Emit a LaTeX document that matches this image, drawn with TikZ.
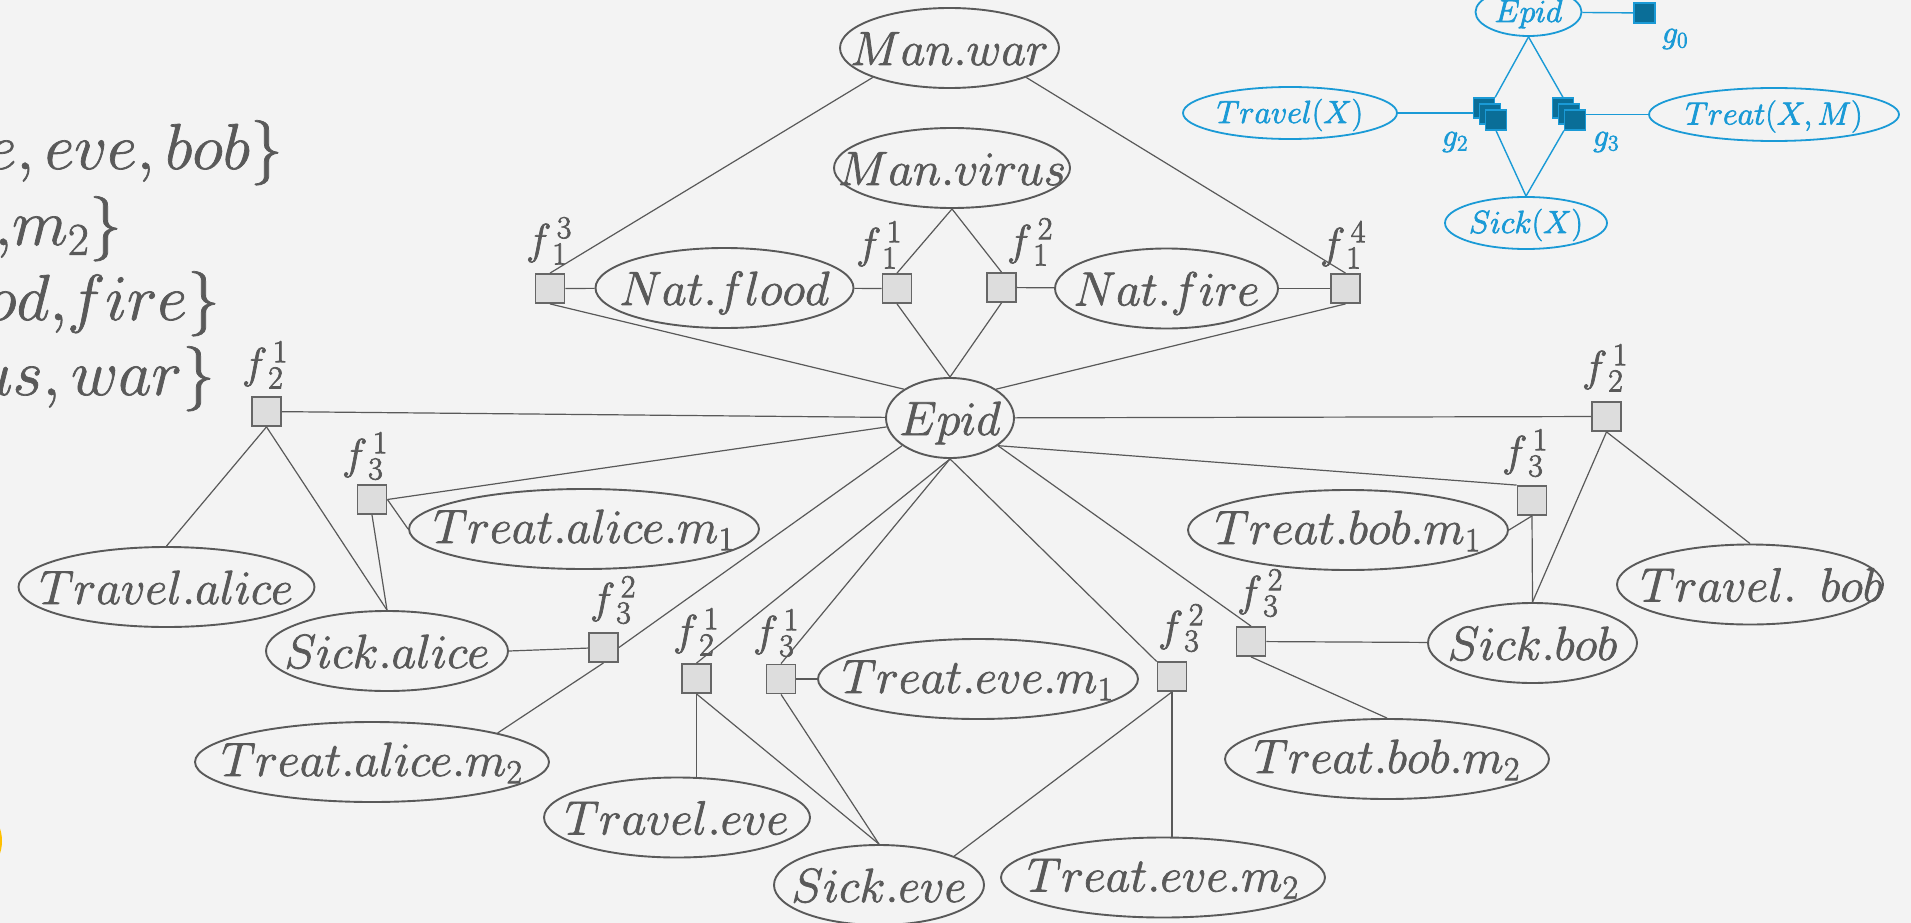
\RequirePackage{fix-cm}
\documentclass[tikz,border=0pt]{standalone}
\usetikzlibrary{shapes.geometric}

\definecolor{bg}{HTML}{F3F3F3}
\definecolor{ink}{HTML}{595959}
\definecolor{sqfill}{HTML}{DDDDDD}
\definecolor{sqline}{HTML}{666666}
\definecolor{blu}{HTML}{1A9AD6}
\definecolor{bluefill}{HTML}{0A6E98}
\definecolor{gold}{HTML}{FFC000}

\DeclareMathSizes{43}{43}{32}{24}

% slightly heavier glyphs: fill and stroke the outlines
\newcommand\heavy[1]{\special{pdf:literal direct 2 Tr 0.7 w}#1\special{pdf:literal direct 0 Tr}}
% centred label that does not widen its node
\newcommand\ctext[1]{\makebox[0pt]{\heavy{$#1$}}}
% factor name f with sub- and superscript set a little apart
\newcommand\fname[2]{\heavy{$f^{\,#2}_{\,#1}$}}

\tikzset{
  var/.style={ellipse, draw=ink, line width=1.9pt, inner sep=0pt, minimum height=80pt,
    text=ink, font=\fontsize{48}{56}\selectfont, text height=34pt, text depth=0pt},
  subvar/.style={var, text height=28pt},
  fac/.style={rectangle, draw=sqline, fill=sqfill, line width=1.8pt,
    minimum width=29pt, minimum height=29pt, inner sep=0pt},
  flab/.style={text=ink, inner sep=0pt, font=\fontsize{43}{50}\selectfont},
  link/.style={draw=ink, line width=1.2pt},
  bvar/.style={ellipse, draw=blu, line width=1.8pt, inner sep=0pt, text=blu,
    font=\fontsize{32}{38}\selectfont, text height=20pt, text depth=0pt},
  bfac/.style={rectangle, draw=blu, fill=bluefill, line width=1.2pt,
    minimum width=21pt, minimum height=20pt, inner sep=0pt},
  blab/.style={text=blu, inner sep=0pt, font=\fontsize{32}{38}\selectfont},
  blink/.style={draw=blu, line width=1.4pt},
  settext/.style={text=ink, inner sep=0pt, font=\fontsize{65}{76}\selectfont, anchor=base east},
}

\begin{document}
\begin{tikzpicture}[x=1pt, y=-1pt]
\useasboundingbox (0,0) rectangle (1911,923);
\fill[bg] (0,0) rectangle (1911,923);
\clip (0,0) rectangle (1911,923);

% domain sets at the left edge
\node[settext] (dx) at (283,169) {\heavy{$e,eve,bob\}$}};
\node[settext] (dm) at (122,245) {\heavy{$,\!m_2\}$}};
\node[settext] (dn) at (220,320) {\heavy{$od,\!fire\}$}};
\node[settext] (dh) at (215,395) {\heavy{$us,war\}$}};
\fill[gold] (-38,841) circle (40pt);

% random variables
\node[var, minimum width=219pt] (manwar) at (949.5,48) {\ctext{Man.war}};
\node[var, minimum width=236pt] (manvirus) at (952,168) {\ctext{Man.virus}};
\node[var, minimum width=258pt] (natflood) at (724.5,288) {\ctext{Nat.flood}};
\node[var, minimum width=223pt] (natfire) at (1166.5,288.5) {\ctext{Nat.fire}};
\node[var, minimum width=128pt] (epid) at (950,418) {\ctext{Epid}};
\node[var, minimum width=296pt] (travelalice) at (166.5,587) {\ctext{Travel.alice}};
\node[subvar, minimum width=350pt] (treatalicem1) at (584,529) {\ctext{Treat.alice.m_1}};
\node[var, minimum width=242pt] (sickalice) at (387,651) {\ctext{Sick.alice}};
\node[subvar, minimum width=354pt] (treatalicem2) at (372,762) {\ctext{Treat.alice.m_2}};
\node[var, minimum width=266pt] (traveleve) at (677,817.5) {\ctext{Travel.eve}};
\node[var, minimum width=210pt] (sickeve) at (879,885) {\ctext{Sick.eve}};
\node[subvar, minimum width=320pt] (treatevem1) at (978,679) {\ctext{Treat.eve.m_1}};
\node[subvar, minimum width=324pt] (treatevem2) at (1163,877.5) {\ctext{Treat.eve.m_2}};
\node[subvar, minimum width=320pt] (treatbobm1) at (1348,530) {\ctext{Treat.bob.m_1}};
\node[subvar, minimum width=324pt] (treatbobm2) at (1387,759) {\ctext{Treat.bob.m_2}};
\node[var, minimum width=209pt] (sickbob) at (1532.5,643) {\ctext{Sick.bob}};
\node[var, minimum width=266pt] (travelbob) at (1750,584.5)
  {\makebox[0pt]{\hspace{24pt}\heavy{$Travel.\hspace{0.5em}bob$}}};

% factors
\node[fac] (f13) at (550,288.5) {};
\node[fac] (f11) at (897,288.5) {};
\node[fac] (f12) at (1001.5,287.5) {};
\node[fac] (f14) at (1345.5,288.5) {};
\node[fac] (f21L) at (266.5,411.5) {};
\node[fac] (f31L) at (372,499.5) {};
\node[fac] (f32L) at (603.5,647.5) {};
\node[fac] (f21M) at (696.5,678.5) {};
\node[fac] (f31M) at (781,679) {};
\node[fac] (f32M) at (1172,676.5) {};
\node[fac] (f32R) at (1251,641.5) {};
\node[fac] (f31R) at (1532,500.5) {};
\node[fac] (f21R) at (1606.5,416.5) {};

% factor names
\node[flab] (lf13) at (549,241) {\fname{1}{3}};
\node[flab] (lf11) at (879,245) {\fname{1}{1}};
\node[flab] (lf12) at (1030,242) {\fname{1}{2}};
\node[flab] (lf14) at (1343,245) {\fname{1}{4}};
\node[flab] (lf21L) at (265,365) {\fname{2}{1}};
\node[flab] (lf31L) at (365,456) {\fname{3}{1}};
\node[flab] (lf32L) at (613,600) {\fname{3}{2}};
\node[flab] (lf21M) at (696,632) {\fname{2}{1}};
\node[flab] (lf31M) at (776,633) {\fname{3}{1}};
\node[flab] (lf32M) at (1181,628) {\fname{3}{2}};
\node[flab] (lf32R) at (1260,593) {\fname{3}{2}};
\node[flab] (lf31R) at (1525,453) {\fname{3}{1}};
\node[flab] (lf21R) at (1605,368) {\fname{2}{1}};

% edges of the ground factor graph
\draw[link] (manwar.201) -- (f13.north);
\draw[link] (manwar.339) -- (f14.north);
\draw[link] (manvirus.south) -- (f11.north);
\draw[link] (manvirus.south) -- (f12.north);
\draw[link] (f13) -- (natflood);
\draw[link] (natflood) -- (f11);
\draw[link] (f12) -- (natfire);
\draw[link] (natfire) -- (f14);
\draw[link] (f13.south) -- (epid.148);
\draw[link] (f11.south) -- (epid.north);
\draw[link] (f12.south) -- (epid.north);
\draw[link] (f14.south) -- (epid.32);
\draw[link] (f21L) -- (epid);
\draw[link] (f21L.south) -- (travelalice.north);
\draw[link] (f21L.south) -- (sickalice.north);
\draw[link] (f31L.east) -- (epid.188);
\draw[link] (f31L.east) -- (treatalicem1.west);
\draw[link] (f31L.south) -- (sickalice.north);
\draw[link] (f32L) -- (sickalice.east);
\draw[link] (f32L.east) -- (epid.210);
\draw[link] (f32L.south) -- (treatalicem2.13);
\draw[link] (epid.south) -- (f21M.north);
\draw[link] (epid.south) -- (f31M.north);
\draw[link] (epid.south) -- (f32M);
\draw[link] (f21M.south) -- (f21M.south |- traveleve.north);
\draw[link] (f21M.south) -- (sickeve.north);
\draw[link] (f31M.south) -- (sickeve.north);
\draw[link] (f31M) -- (treatevem1);
\draw[link] (f32M.south) -- (sickeve.21);
\draw[link] (f32M.south) -- (f32M.south |- treatevem2.north);
\draw[link] (epid) -- (f21R);
\draw[link] (epid.330) -- (f31R.north west);
\draw[link] (epid.330) -- (f32R.north);
\draw[link] (f31R.south) -- (treatbobm1.east);
\draw[link] (f31R.south) -- (sickbob.north);
\draw[link] (f21R.south) -- (sickbob.north);
\draw[link] (f21R.south) -- (travelbob.north);
\draw[link] (f32R) -- (sickbob);
\draw[link] (f32R.south) -- (treatbobm2.north);

% lifted (parfactor) graph
\node[bvar, minimum width=106pt, minimum height=48pt] (bepid) at (1528.5,12) {\ctext{Epid}};
\node[bvar, minimum width=214pt, minimum height=52pt] (btravel) at (1290,113) {\ctext{Travel(X)}};
\node[bvar, minimum width=250pt, minimum height=53pt] (btreat) at (1774,114.5) {\ctext{Treat(X,M)}};
\node[bvar, minimum width=162pt, minimum height=52pt] (bsick) at (1526,223) {\ctext{Sick(X)}};
\node[bfac] (g0) at (1644.5,13) {};
\node[bfac] (g2a) at (1484,108) {};
\node[bfac] (g2b) at (1490,114) {};
\node[bfac] (g2c) at (1496,120) {};
\node[bfac] (g3a) at (1563,108) {};
\node[bfac] (g3b) at (1569,114) {};
\node[bfac] (g3c) at (1575,120) {};
\node[blab] (lg0) at (1675,39) {\heavy{$g_0$}};
\node[blab] (lg2) at (1455,142) {\heavy{$g_2$}};
\node[blab] (lg3) at (1606,142) {\heavy{$g_3$}};
\draw[blink] (bepid) -- (g0);
\draw[blink] (bepid.south) -- (g2a.north east);
\draw[blink] (bepid.south) -- (g3a.north);
\draw[blink] (btravel.east) -- (btravel.east -| g2a.west);
\draw[blink] (btreat.west) -- (btreat.west -| g3c.east);
\draw[blink] (g2c.south) -- (bsick.north);
\draw[blink] (g3c.south west) -- (bsick.north);
\end{tikzpicture}
\end{document}
